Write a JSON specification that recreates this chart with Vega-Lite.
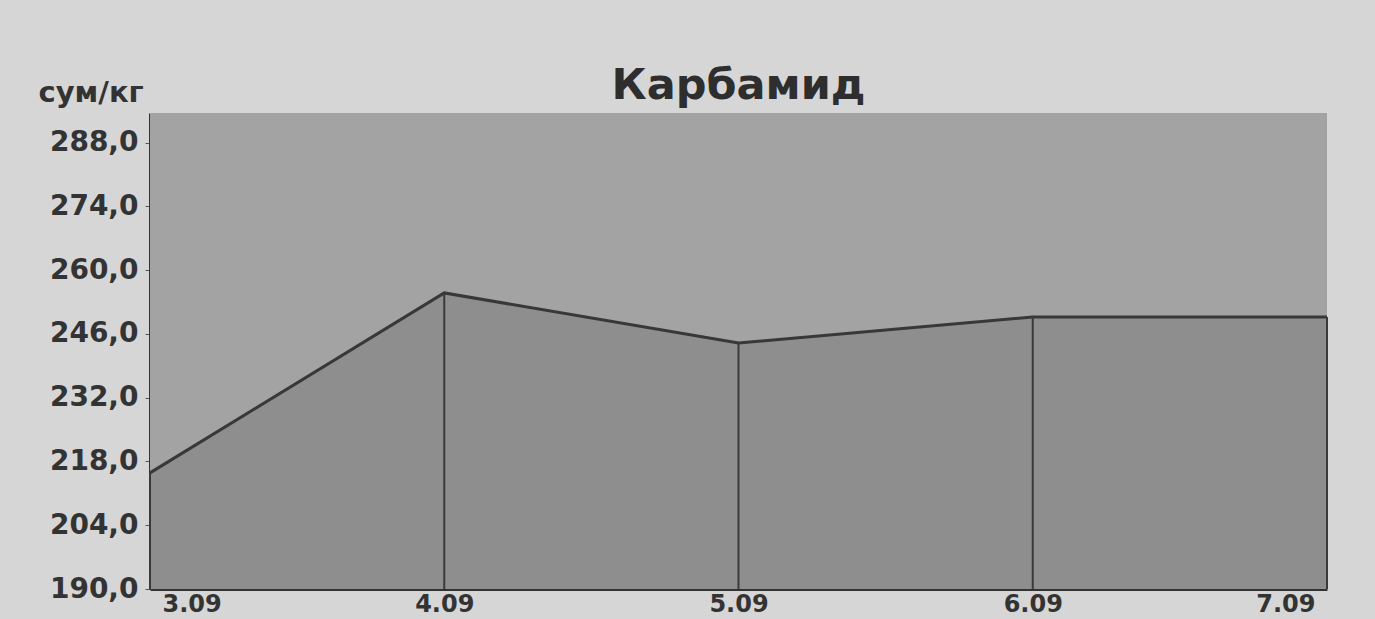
{
  "$schema": "https://vega.github.io/schema/vega-lite/v6.json",
  "autosize": {"type": "none"},
  "width": 1177,
  "height": 476,
  "padding": {"left": 150, "top": 113, "right": 48, "bottom": 30},
  "background": "#d6d6d6",
  "title": {
    "text": "Карбамид",
    "font": "DejaVu Sans",
    "fontSize": 43,
    "fontWeight": "bold",
    "color": "#2e2e2e",
    "offset": 12,
    "dy": 42,
    "anchor": "middle"
  },
  "config": {
    "view": {"stroke": null},
    "axis": {
      "labelFont": "DejaVu Sans",
      "labelFontWeight": "bold",
      "labelFontSize": 28,
      "labelColor": "#333333",
      "domainColor": "#333333",
      "domainWidth": 3,
      "tickColor": "#555555",
      "grid": false
    }
  },
  "data": {
    "values": [
      {"date": "3.09", "price": 215.5},
      {"date": "4.09", "price": 255.0},
      {"date": "5.09", "price": 244.0},
      {"date": "6.09", "price": 249.7},
      {"date": "7.09", "price": 249.7}
    ]
  },
  "layer": [
    {
      "mark": {"type": "rect", "color": "#a3a3a3"},
      "encoding": {
        "y": {"datum": 190},
        "y2": {"datum": 294.5}
      }
    },
    {
      "mark": {"type": "area", "color": "#8e8e8e", "opacity": 1, "line": {"color": "#383838", "strokeWidth": 3}},
      "encoding": {
        "x": {
          "field": "date",
          "type": "ordinal",
          "sort": null,
          "scale": {"type": "point", "padding": 0},
          "axis": {
            "title": null,
            "labelAngle": 0,
            "labelFlush": true,
            "labelFlushOffset": -12,
            "labelPadding": 3,
            "labelFontSize": 24,
            "ticks": false,
            "domain": true
          }
        },
        "y": {
          "field": "price",
          "type": "quantitative",
          "scale": {"domain": [190, 294.5], "nice": false, "zero": false},
          "axis": {
            "values": [190, 204, 218, 232, 246, 260, 274, 288],
            "format": ".1f",
            "labelExpr": "replace(datum.label, '.', ',')",
            "title": "сум/кг",
            "titleAngle": 0,
            "titleFont": "DejaVu Sans",
            "titleFontWeight": "bold",
            "titleFontSize": 29,
            "titleColor": "#333333",
            "titleAlign": "left",
            "titleBaseline": "bottom",
            "titleX": -112,
            "titleY": -6,
            "tickSize": 5,
            "labelPadding": 7
          }
        },
        "y2": {"datum": 190}
      }
    },
    {
      "mark": {"type": "rule", "color": "#3a3a3a", "strokeWidth": 2},
      "encoding": {
        "x": {"field": "date", "type": "ordinal", "sort": null},
        "y": {"field": "price", "type": "quantitative"},
        "y2": {"datum": 190}
      }
    }
  ]
}
